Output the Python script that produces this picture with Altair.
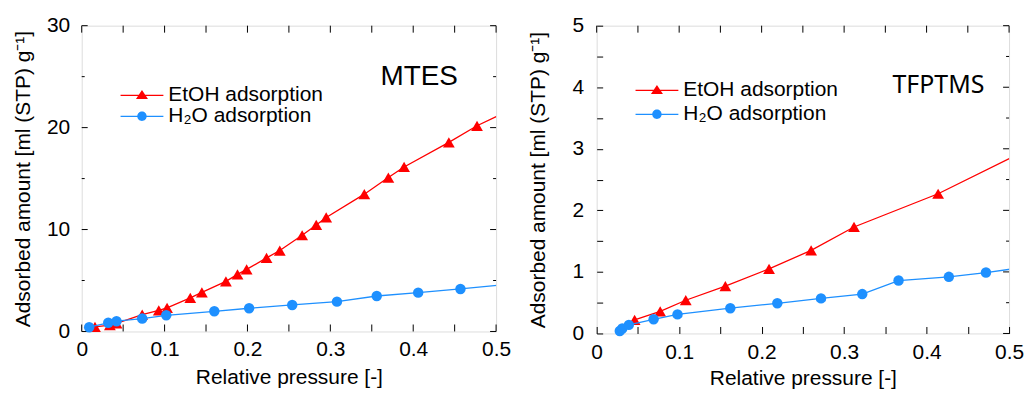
import altair as alt
import pandas as pd

# ---------------- data ----------------
SERIES = ["EtOH adsorption", "H\u2082O adsorption"]

# MTES panel
mtes_etoh_x = [0.016, 0.034, 0.042, 0.073, 0.093, 0.103, 0.131, 0.145, 0.174, 0.188,
               0.199, 0.223, 0.239, 0.266, 0.283, 0.295, 0.341, 0.370, 0.389, 0.443,
               0.477, 0.52]
mtes_etoh_y = [0.45, 0.62, 0.80, 1.66, 2.08, 2.31, 3.29, 3.84, 4.91, 5.60,
               6.09, 7.22, 7.94, 9.44, 10.45, 11.19, 13.47, 15.10, 16.14, 18.55,
               20.18, 21.86]
mtes_h2o_x = [0.009, 0.032, 0.042, 0.073, 0.102, 0.160, 0.202, 0.254, 0.308, 0.356,
              0.406, 0.457, 0.51]
mtes_h2o_y = [0.42, 0.85, 1.01, 1.27, 1.59, 1.98, 2.28, 2.60, 2.93, 3.48,
              3.81, 4.17, 4.60]

# TFPTMS panel
tf_etoh_x = [0.046, 0.077, 0.108, 0.156, 0.209, 0.260, 0.312, 0.414, 0.52]
tf_etoh_y = [0.22, 0.36, 0.54, 0.77, 1.05, 1.35, 1.73, 2.27, 2.97]
tf_h2o_x = [0.028, 0.031, 0.039, 0.069, 0.098, 0.162, 0.219, 0.272, 0.322, 0.366,
            0.427, 0.472, 0.51]
tf_h2o_y = [0.04, 0.08, 0.14, 0.23, 0.31, 0.41, 0.49, 0.57, 0.64, 0.86,
            0.92, 0.99, 1.06]

# axis tick values (labels at the major ones only)
X_LABELS = [0, 0.1, 0.2, 0.3, 0.4, 0.5]
X_TICKS = [0, 0.05, 0.1, 0.15, 0.2, 0.25, 0.3, 0.35, 0.4, 0.45, 0.5]
MTES_Y_MAJOR = [0, 10, 20, 30]
MTES_Y_MINOR = [5, 15, 25]
TF_Y_MAJOR = [0, 1, 2, 3, 4, 5]
TF_Y_MINOR = [0.5, 1.5, 2.5, 3.5, 4.5]

# ---------------- styling ----------------
RED = "#ff0000"
BLUE = "#1e90ff"
FONT = "Liberation Sans"
X_TITLE = "Relative pressure [-]"
Y_TITLE = "Adsorbed amount [ml (STP) g\u207b\u00b9]"

LEG_TRI = "M-1,-0.03H1V0.03H-1Z M0,-0.25L0.28,0.17L-0.28,0.17Z"
LEG_CIR = "M-1,-0.03H1V0.03H-1Z M0.22,0A0.22,0.22 0 1,1 -0.22,0A0.22,0.22 0 1,1 0.22,0Z"


def make_df(ex, ey, hx, hy):
    return pd.DataFrame({
        "x": ex + hx,
        "y": ey + hy,
        "series": [SERIES[0]] * len(ex) + [SERIES[1]] * len(hx),
    })


def panel(df, ymax, ymajor, yminor, name, name_font, name_size, name_x, name_y,
          width, height, xlab_pad, xtitle_y, ylab_pad, leg_y1, leg_y2, mode):
    xs = alt.Scale(domain=[0, 0.5], nice=False, zero=False)
    ys = alt.Scale(domain=[0, ymax], nice=False, zero=False)
    yall = sorted(ymajor + yminor)

    if mode == "rules":
        x_ax = alt.Axis(orient="bottom", values=X_LABELS, ticks=False, tickSize=0,
                        domain=False, grid=False,
                        labelExpr="datum.value == 0 ? '0' : format(datum.value, '.1f')",
                        labelPadding=xlab_pad)
        y_ax = alt.Axis(orient="left", values=ymajor, ticks=False, tickSize=0,
                        domain=False, grid=False, format="d", labelPadding=ylab_pad)
    else:
        x_ax = alt.Axis(orient="bottom", values=X_TICKS, ticks=True,
                        tickSize={"expr": "-7"}, tickColor="black", tickWidth=1,
                        domain=False, grid=False,
                        labelExpr="abs(datum.value*10 - round(datum.value*10)) < 0.001 ? "
                                  "(datum.value == 0 ? '0' : format(datum.value, '.1f')) : ''",
                        labelPadding=xlab_pad + 7)
        y_ax = alt.Axis(orient="left", values=yall, ticks=True,
                        tickSize={"expr": "-6"}, tickColor="black", tickWidth=1,
                        domain=False, grid=False,
                        labelExpr="datum.value % 1 == 0 ? format(datum.value, 'd') : ''",
                        labelPadding=ylab_pad + 6)

    common = dict(labelFontSize=21, labelFont=FONT, labelColor="black",
                  labelFlush=False, labelOverlap=False, titleFontSize=21, titleFont=FONT,
                  titleFontWeight="normal", titleColor="black", titleBaseline="middle")
    for k, v in common.items():
        setattr(x_ax, k, v)
        setattr(y_ax, k, v)
    x_ax.title = X_TITLE
    x_ax.titleY = xtitle_y
    y_ax.title = Y_TITLE
    y_ax.titleX = -58

    XN = alt.X("x:Q", scale=xs, axis=None)
    YN = alt.Y("y:Q", scale=ys, axis=None)
    etoh = alt.datum.series == SERIES[0]
    h2o = alt.datum.series == SERIES[1]
    inside = alt.datum.x <= 0.5

    l_etoh = alt.Chart().transform_filter(etoh).mark_line(
        color=RED, strokeWidth=1.3, clip=True).encode(
        x=alt.X("x:Q", scale=xs, axis=x_ax), y=alt.Y("y:Q", scale=ys, axis=y_ax),
        order="x:Q")
    p_etoh = alt.Chart().transform_filter(etoh).transform_filter(inside).mark_point(
        shape="triangle-up", filled=True, color=RED, size=140, opacity=1).encode(x=XN, y=YN)
    l_h2o = alt.Chart().transform_filter(h2o).mark_line(
        color=BLUE, strokeWidth=1.3, clip=True).encode(x=XN, y=YN, order="x:Q")
    p_h2o = alt.Chart().transform_filter(h2o).transform_filter(inside).mark_point(
        shape="circle", filled=True, color=BLUE, size=110, opacity=1).encode(x=XN, y=YN)

    def xrule(y0, y1):
        return alt.Chart(pd.DataFrame({"v": X_TICKS})).mark_rule(
            color="black", strokeWidth=1).encode(
            x=alt.X("v:Q", scale=xs, axis=None), y=alt.value(y0), y2=alt.value(y1))

    def yrule(vals, x0, x1):
        return alt.Chart(pd.DataFrame({"v": vals})).mark_rule(
            color="black", strokeWidth=1).encode(
            y=alt.Y("v:Q", scale=ys, axis=None), x=alt.value(x0), x2=alt.value(x1))

    def xpt(y0, path, size):
        return alt.Chart(pd.DataFrame({"v": X_TICKS})).mark_point(
            shape=path, size=size, filled=False, color="black", strokeWidth=1,
            opacity=1).encode(x=alt.X("v:Q", scale=xs, axis=None), y=alt.value(y0))

    def ypt(vals, x0, path, size):
        return alt.Chart(pd.DataFrame({"v": vals})).mark_point(
            shape=path, size=size, filled=False, color="black", strokeWidth=1,
            opacity=1).encode(y=alt.Y("v:Q", scale=ys, axis=None), x=alt.value(x0))

    if mode == "rules":
        ticks = [xrule(height, height - 7), xrule(0, 7),
                 yrule(ymajor, 0, 6), yrule(ymajor, width, width - 6),
                 yrule(yminor, 0, 3), yrule(yminor, width, width - 3)]
    else:
        ticks = [xpt(0, "M0,0V1", 196),
                 ypt(ymajor, width, "M0,0H-1", 144),
                 ypt(yminor, width, "M0,0H-1", 36)]

    def legend_layer(i, leg_y, path, color):
        leg = alt.Legend(orient="none", legendX=39, legendY=leg_y, title=None,
                         symbolSize=1849, symbolStrokeWidth=0, labelFontSize=21,
                         labelFont=FONT, labelColor="black", labelOffset=5, padding=0)
        return alt.Chart().transform_filter("false").mark_point(
            filled=True, opacity=1).encode(
            x=XN, y=YN,
            color=alt.Color("series:N", scale=alt.Scale(domain=[SERIES[i]], range=[color]),
                            legend=leg),
            shape=alt.Shape("series:N", scale=alt.Scale(domain=[SERIES[i]], range=[path]),
                            legend=leg))

    label = alt.Chart(pd.DataFrame({"label": [name]})).mark_text(
        align="left", baseline="middle", font=name_font, fontSize=name_size,
        color="black").encode(text="label:N", x=alt.value(name_x), y=alt.value(name_y))

    return alt.layer(
        l_etoh, *ticks, p_etoh, l_h2o, p_h2o,
        legend_layer(0, leg_y1, LEG_TRI, RED),
        legend_layer(1, leg_y2, LEG_CIR, BLUE),
        label, data=df,
    ).resolve_axis(x="independent", y="independent").resolve_scale(
        color="independent", shape="independent").properties(width=width, height=height)


left = panel(make_df(mtes_etoh_x, mtes_etoh_y, mtes_h2o_x, mtes_h2o_y),
             30, MTES_Y_MAJOR, MTES_Y_MINOR, "MTES", FONT, 28, 300, 52,
             416, 307, 7, 46, 12, 48.5, 69.5, "rules")
right = panel(make_df(tf_etoh_x, tf_etoh_y, tf_h2o_x, tf_h2o_y),
              5, TF_Y_MAJOR, TF_Y_MINOR, "TFPTMS", "Noto Sans", 25, 297, 60,
              414, 309, 8, 45, 13, 43.5, 67.5, "axis")

chart = alt.hconcat(left, right, spacing=15).configure_view(
    stroke="black", strokeWidth=1).configure(
    background="white", padding={"left": 4, "top": 5, "right": 0, "bottom": -1})

chart.save("out.html", embed_options={"renderer": "svg", "actions": False})
